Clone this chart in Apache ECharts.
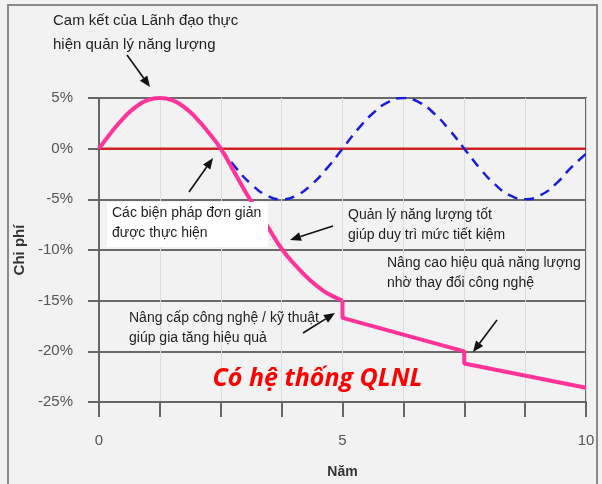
<!DOCTYPE html>
<html>
<head>
<meta charset="utf-8">
<script src="https://cdn.jsdelivr.net/npm/echarts@6/dist/echarts.min.js"></script>
<style>
  html, body { margin: 0; padding: 0; background: #f2f2f2; }
  #chart { width: 602px; height: 484px; }
</style>
</head>
<body>
<div id="chart"></div>
<script>
// đường chi phí có hệ thống QLNL (phần cong)
var curveX = [0, 0.25, 0.5, 0.75, 1.0, 1.25, 1.5, 1.75, 2.0, 2.25, 2.5, 2.8, 3.1, 3.45, 3.77, 4.05, 4.34, 4.6, 4.82, 5]
var curveY = [0, 1.6, 3.0, 4.1, 4.8, 5.0, 4.8, 4.1, 3.0, 1.6, 0, -2.5, -5.0, -7.6, -10.0, -11.6, -13.0, -14.0, -14.6, -15.0]
// phần bậc thang
var stepX = [5, 5, 7.5, 7.5, 10]
var stepY = [-15.0, -16.7, -20.0, -21.2, -23.6]
// đường không có QLNL (nét đứt)
var waveX = [2.5, 2.8125, 3.125, 3.4375, 3.75, 4.0625, 4.375, 4.6875, 5, 5.3125, 5.625, 5.9375, 6.25,
  6.5625, 6.875, 7.1875, 7.5, 7.8125, 8.125, 8.4375, 8.75, 9.0625, 9.375, 9.6875, 10]
var waveY = [0, -1.9, -3.5, -4.6, -5.0, -4.6, -3.5, -1.9, 0, 1.9, 3.5, 4.6, 5.0,
  4.6, 3.5, 1.9, 0, -1.9, -3.5, -4.6, -5.0, -4.6, -3.5, -1.9, -0.5]
var baseX = [0, 10]
var baseY = [0, 0]
var xLabels = ['0', '5', '10']

function pairs(xs, ys) {
  return xs.map(function (x, i) { return [x, ys[i]] })
}

// mũi tên chú thích
function arrow(x1, y1, x2, y2) {
  var a = Math.atan2(y2 - y1, x2 - x1)
  var L = 11, W = 4.5
  var bx = x2 - L * Math.cos(a), by = y2 - L * Math.sin(a)
  var px = -Math.sin(a) * W, py = Math.cos(a) * W
  return {
    type: 'group', z: 100,
    children: [
      { type: 'line', z: 100, shape: { x1: x1, y1: y1, x2: bx, y2: by }, style: { stroke: '#111', lineWidth: 1.6 } },
      { type: 'polygon', z: 100, shape: { points: [[x2, y2], [bx + px, by + py], [bx - px, by - py]] }, style: { fill: '#111' } }
    ]
  }
}

function note(x, y, text) {
  return {
    type: 'text', left: x, top: y, z: 101,
    style: { text: text, fill: '#1e1e1e', font: '14px "Liberation Sans", Arial, sans-serif', lineHeight: 20 }
  }
}

var chart = echarts.init(document.getElementById('chart'))
var option = {
  backgroundColor: '#f2f2f2',
  animation: false,
  grid: {
    left: 99, right: 16, top: 98, bottom: 81,
    show: true, borderColor: '#666', borderWidth: 2, backgroundColor: 'transparent'
  },
  xAxis: {
    type: 'value', min: 0, max: 10, interval: 1.25,
    name: 'Năm', nameLocation: 'middle', nameGap: 63,
    nameTextStyle: { color: '#333', fontSize: 14, fontWeight: 'bold', fontFamily: 'Liberation Sans' },
    axisLine: { onZero: false, lineStyle: { color: '#666', width: 2 } },
    axisTick: { show: true, length: 15, lineStyle: { color: '#666', width: 2 } },
    axisLabel: {
      margin: 31, color: '#555', fontSize: 15, fontFamily: 'Liberation Sans',
      formatter: function (v) { return xLabels.indexOf(String(v)) >= 0 ? String(v) : '' }
    },
    splitLine: { show: true, lineStyle: { color: '#dcdcdc', width: 1 } }
  },
  yAxis: {
    type: 'value', min: -25, max: 5, interval: 5,
    name: 'Chi phí', nameLocation: 'middle', nameGap: 72, nameRotate: 90,
    nameTextStyle: { color: '#333', fontSize: 15, fontWeight: 'bold', fontFamily: 'Liberation Sans' },
    axisLine: { show: true, onZero: false, lineStyle: { color: '#666', width: 2 } },
    axisTick: { show: true, length: 11, lineStyle: { color: '#666', width: 2 } },
    axisLabel: { margin: 26, color: '#555', fontSize: 15, fontFamily: 'Liberation Sans', formatter: '{value}%' },
    splitLine: { show: true, lineStyle: { color: '#6a6a6a', width: 2 } }
  },
  series: [
    {
      type: 'line', data: pairs(baseX, baseY), symbol: 'none',
      lineStyle: { color: '#cc2222', width: 2.5 }, z: 2
    },
    {
      type: 'line', data: pairs(waveX, waveY), symbol: 'none', smooth: true,
      lineStyle: { color: '#1c1ce0', width: 2.5, type: [10, 7] }, z: 3
    },
    {
      type: 'line', data: pairs(curveX, curveY), symbol: 'none', smooth: true,
      lineStyle: { color: '#ff3399', width: 4 }, z: 4
    },
    {
      type: 'line', data: pairs(stepX, stepY), symbol: 'none',
      lineStyle: { color: '#ff3399', width: 4 }, z: 4
    }
  ],
  graphic: [
    { type: 'rect', z: 99, shape: { x: 8, y: 5, width: 589, height: 490 }, style: { fill: 'none', stroke: '#8a8a8a', lineWidth: 2 }, silent: true },
    {
      type: 'text', left: 53, top: 9, z: 101,
      style: { text: 'Cam kết của Lãnh đạo thực\nhiện quản lý năng lượng', fill: '#1e1e1e', font: '15px "Liberation Sans", Arial, sans-serif', lineHeight: 24 }
    },
    arrow(127, 55, 150, 87),
    { type: 'rect', z: 100, shape: { x: 107, y: 202, width: 161, height: 45 }, style: { fill: '#ffffff' } },
    note(112, 203, 'Các biện pháp đơn giản\nđược thực hiện'),
    arrow(189, 192, 213, 158),
    note(348, 205, 'Quản lý năng lượng tốt\ngiúp duy trì mức tiết kiệm'),
    arrow(333, 226, 290, 240),
    note(387, 253, 'Nâng cao hiệu quả năng lượng\nnhờ thay đổi công nghệ'),
    note(129, 308, 'Nâng cấp công nghệ / kỹ thuật\ngiúp gia tăng hiệu quả'),
    arrow(303, 333, 335, 313),
    arrow(497, 320, 473, 352),
    {
      type: 'text', left: 206, top: 366, z: 101,
      style: { text: ' Có hệ thống QLNL ', fill: '#ff0000', font: 'italic bold 25px "Open Sans", sans-serif' }
    }
  ]
}
chart.setOption(option)
</script>
</body>
</html>
